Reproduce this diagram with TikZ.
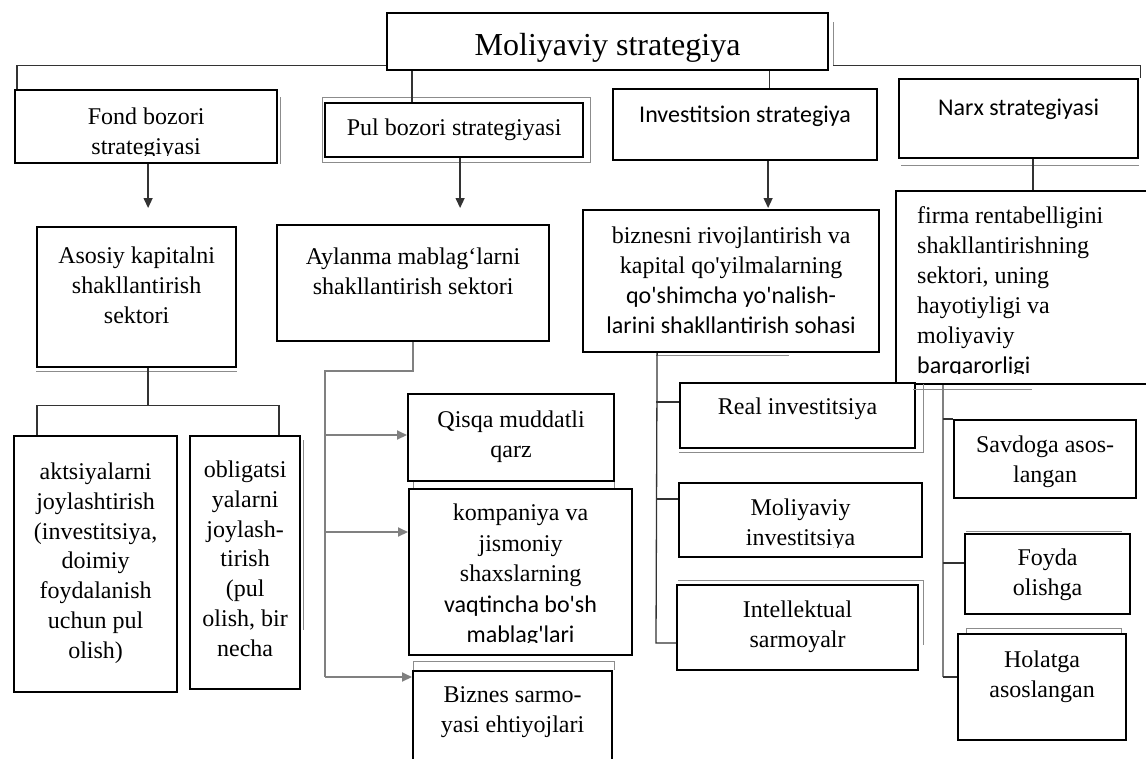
\documentclass[tikz,border=0pt]{standalone}
\usepackage{fontspec}
\setmainfont{Liberation Serif}
\newfontfamily\sansf{Carlito}
\usetikzlibrary{arrows.meta}
\newcommand{\aps}{\textquotesingle}
\begin{document}
\begin{tikzpicture}[x=1pt,y=-1pt,
  box/.style={draw=black, line width=2.2pt, inner sep=0pt, anchor=north west, fill=white},
  intext/.style={anchor=north, align=center, inner sep=0pt, draw=none, fill=none,
    minimum width=0pt, minimum height=0pt, font=\fontsize{24}{30}\selectfont},
  conn/.style={draw=black!80, line width=1.3pt},
  gconn/.style={draw=black!50, line width=2pt},
  rconn/.style={draw=black!50, line width=2.4pt},
  echo/.style={draw=black!45, line width=1pt},
  tip/.style={-{Triangle[length=10pt,width=9pt]}},
]
\clip (0,0) rectangle (1146,758);
\fill[white] (0,0) rectangle (1146,758);

% ---------- boxes ----------
\node[box, minimum width=441pt, minimum height=57pt,
  path picture={\node[intext, font=\fontsize{32}{38}\selectfont] at ([yshift=-19pt]path picture bounding box.north) {Moliyaviy strategiya};}]
  (top) at (386,12) {};

\node[box, minimum width=262pt, minimum height=73pt,
  path picture={\clip (path picture bounding box.north west) rectangle ([yshift=8pt]path picture bounding box.south east);
    \node[intext] at ([yshift=-17pt]path picture bounding box.north) {Fond bozori\\strategiyasi};}]
  (fond) at (14,89) {};

\node[box, minimum width=258pt, minimum height=54pt,
  path picture={\node[intext] at ([yshift=-15pt]path picture bounding box.north) {Pul bozori strategiyasi};}]
  (pul) at (324,102) {};

\node[box, minimum width=264pt, minimum height=71pt,
  path picture={\node[intext, font=\sansf\fontsize{24}{30}\selectfont] at ([yshift=-16pt]path picture bounding box.north) {Investitsion strategiya};}]
  (inv) at (612,88) {};

\node[box, minimum width=239pt, minimum height=79pt,
  path picture={\node[intext, font=\sansf\fontsize{24}{30}\selectfont] at ([yshift=-19pt]path picture bounding box.north) {Narx strategiyasi};}]
  (narx) at (898,78) {};

\node[box, minimum width=199pt, minimum height=140pt,
  path picture={\node[intext] at ([yshift=-19pt]path picture bounding box.north) {Asosiy kapitalni\\shakllantirish\\sektori};}]
  (asosiy) at (36,226) {};

\node[box, minimum width=272pt, minimum height=116pt,
  path picture={\node[intext] at ([yshift=-22pt]path picture bounding box.north) {Aylanma mablag‘larni\\shakllantirish sektori};}]
  (ayl) at (276,224) {};

\node[box, minimum width=296pt, minimum height=142pt,
  path picture={\node[intext] at ([yshift=-16pt]path picture bounding box.north) {biznesni rivojlantirish va\\kapital qo\aps yilmalarning\\{\sansf qo\aps shimcha yo\aps nalish-}\\{\sansf larini shakllantirish sohasi}};}]
  (biz) at (582,209) {};

\node[box, minimum width=270pt, minimum height=193pt,
  path picture={\clip (path picture bounding box.north west) rectangle ([yshift=11pt]path picture bounding box.south east);
    \node[intext, anchor=north west, align=left] at ([xshift=20pt,yshift=-14pt]path picture bounding box.north west) {firma rentabelligini\\shakllantirishning\\sektori, uning\\hayotiyligi va\\moliyaviy\\{\sansf barqarorligi}};}]
  (firma) at (895,190) {};

\node[box, minimum width=163pt, minimum height=256pt,
  path picture={\node[intext, font=\fontsize{24}{29.7}\selectfont] at ([yshift=-26pt]path picture bounding box.north) {aktsiyalarni\\joylashtirish\\(investitsiya,\\doimiy\\foydalanish\\uchun pul\\olish)};}]
  (akt) at (13,435) {};

\node[box, minimum width=110pt, minimum height=253pt,
  path picture={\node[intext, font=\fontsize{24}{29.7}\selectfont] at ([yshift=-24pt]path picture bounding box.north) {obligatsi\\yalarni\\joylash-\\tirish\\(pul\\olish, bir\\necha};}]
  (obl) at (189,435) {};

\node[box, minimum width=206pt, minimum height=87pt,
  path picture={\node[intext] at ([yshift=-16pt]path picture bounding box.north) {Qisqa muddatli\\qarz};}]
  (qisqa) at (407,393) {};

\node[box, minimum width=223pt, minimum height=166pt,
  path picture={\clip (path picture bounding box.north west) rectangle ([yshift=13pt]path picture bounding box.south east);
    \node[intext, font=\fontsize{24}{30.5}\selectfont] at ([yshift=-14pt]path picture bounding box.north) {kompaniya va\\jismoniy\\shaxslarning\\{\sansf vaqtincha bo\aps sh}\\{\sansf mablag\aps lari}};}]
  (komp) at (408,488) {};

\node[box, minimum width=199pt, minimum height=105pt,
  path picture={\node[intext] at ([yshift=-14pt]path picture bounding box.north) {Biznes sarmo-\\yasi ehtiyojlari};}]
  (biznes) at (412,670) {};

\node[box, minimum width=235pt, minimum height=65pt,
  path picture={\node[intext] at ([yshift=-14pt]path picture bounding box.north) {Real investitsiya};}]
  (real) at (679,382) {};

\node[box, minimum width=243pt, minimum height=74pt,
  path picture={\clip (path picture bounding box.north west) rectangle ([yshift=10pt]path picture bounding box.south east);
    \node[intext] at ([yshift=-15pt]path picture bounding box.north) {Moliyaviy\\investitsiya};}]
  (moli) at (678,482) {};

\node[box, minimum width=241pt, minimum height=85pt,
  path picture={\node[intext] at ([yshift=-15pt]path picture bounding box.north) {Intellektual\\sarmoyalr};}]
  (intel) at (676,584) {};

\node[box, minimum width=182pt, minimum height=78pt,
  path picture={\node[intext] at ([yshift=-15pt]path picture bounding box.north) {Savdoga asos-\\langan};}]
  (savd) at (953,419) {};

\node[box, minimum width=165pt, minimum height=80pt,
  path picture={\node[intext] at ([yshift=-14pt]path picture bounding box.north) {Foyda\\olishga};}]
  (foyda) at (964,533) {};

\node[box, minimum width=168pt, minimum height=106pt,
  path picture={\node[intext] at ([yshift=-16pt]path picture bounding box.north) {Holatga\\asoslangan};}]
  (holat) at (957,633) {};

% ---------- thin outlines beside some boxes ----------
\draw[echo] ([xshift=4pt,yshift=-10pt]top.north east) -- ([xshift=4pt,yshift=5pt]top.south east);
\draw[echo] ([xshift=2.5pt,yshift=-8pt]fond.north east) -- ([xshift=2.5pt]fond.south east);
\draw[echo] ([xshift=-2pt,yshift=5pt]pul.north west) rectangle ([xshift=6pt,yshift=-4pt]pul.south east);
\draw[echo] ([yshift=-3pt]asosiy.south west) -- ([yshift=-3pt]asosiy.south east);
\draw[echo] ([xshift=2.5pt,yshift=-5pt]obl.north east) -- ([xshift=2.5pt,yshift=60pt]obl.south east);
\draw[echo] ([xshift=3pt,yshift=-6pt]narx.south west) -- ([yshift=-6pt]narx.south east);
\draw[echo] ([xshift=7pt,yshift=-2pt]real.north east) -- ([xshift=7pt,yshift=-3pt]real.south east) -- ([yshift=-3pt]real.south west);
\draw[echo] ([xshift=-75pt,yshift=-2pt]biz.south) -- ([xshift=58pt,yshift=-2pt]biz.south);
\draw[echo] ([xshift=6pt]qisqa.south west) -- ([xshift=6pt]qisqa.south west |- komp.north);
\draw[echo] ([xshift=-1pt]qisqa.south east) -- ([xshift=-1pt]qisqa.south east |- komp.north);
\draw[echo] ([xshift=1pt]biznes.north west) -- ([xshift=1pt,yshift=9pt]biznes.north west) -- ([xshift=1pt,yshift=9pt]biznes.north east) -- ([xshift=1pt]biznes.north east);
\draw[echo] ([xshift=2pt,yshift=4pt]intel.north west) -- ([xshift=4pt,yshift=4pt]intel.north east) -- ([xshift=4pt,yshift=26pt]intel.south east);
\draw[echo] ([xshift=2pt,yshift=2pt]foyda.north west) -- ([xshift=-9pt,yshift=2pt]foyda.north east);
\draw[echo] ([xshift=9pt]holat.north west) -- ([xshift=9pt,yshift=5pt]holat.north west) -- ([xshift=-6pt,yshift=5pt]holat.north east) -- ([xshift=-6pt]holat.north east);
\draw[echo] ([xshift=18pt,yshift=-4pt]firma.south west) -- ([xshift=137pt,yshift=-4pt]firma.south west);

% ---------- connectors from the top box ----------
\draw[conn] ([yshift=6pt]top.south west) -| ([xshift=3pt]fond.north west);
\draw[conn] ([xshift=4pt,yshift=6pt]top.south east) -| ([xshift=1pt]narx.north east);
\draw[conn] ([xshift=26pt]top.south west) -- ([xshift=26pt]top.south west |- pul.north);
\draw[conn] ([xshift=-60pt]top.south east) -- ([xshift=-60pt]top.south east |- inv.north);

% ---------- arrows to the sector boxes ----------
\draw[conn,tip,shorten >=18pt] ([xshift=2pt]fond.south) -- ([xshift=2pt]fond.south |- asosiy.north);
\draw[conn,tip,shorten >=16pt] ([xshift=6pt]pul.south) -- ([xshift=6pt]pul.south |- ayl.north);
\draw[conn,tip,shorten >=1pt] ([xshift=23pt]inv.south) -- ([xshift=23pt]inv.south |- biz.north);
\draw[conn] ([xshift=14.5pt]narx.south) -- ([xshift=14.5pt]narx.south |- firma.north);

% ---------- fixed capital branch ----------
\draw[conn] ([xshift=11.5pt]asosiy.south) -- ++(0,37) coordinate (ja);
\draw[conn] ([xshift=24pt]akt.north west) |- (ja) -| ([xshift=90pt]obl.north west);

% ---------- working capital bus ----------
\coordinate (pbus) at (325,371);
\coordinate (p1) at (325,435);
\coordinate (p2) at (325,532);
\coordinate (p3) at (325,677);
\draw[gconn] (ayl.south) |- (pbus) -- (p3);
\draw[gconn,tip] (p1) -- (p1 -| qisqa.west);
\draw[gconn,tip] (p2) -- (p2 -| komp.west);
\draw[gconn,tip] (p3) -- (p3 -| biznes.west);

% ---------- investment bus ----------
\coordinate (i1) at (656,402);
\coordinate (i2) at (656,499);
\coordinate (i3) at (656,643);
\draw[conn] ([xshift=-74pt]biz.south) -- (i3) -- (i3 -| intel.west);
\draw[conn] (i1) -- (i1 -| real.west);
\draw[conn] (i2) -- (i2 -| moli.west);

% ---------- pricing bus ----------
\coordinate (r1) at (943,419);
\coordinate (r2) at (943,563);
\coordinate (r3) at (943,677);
\draw[rconn] (firma.south -| r1) -- (r3);
\draw[conn] (r3) -- (r3 -| holat.west);
\draw[conn] (r1) -- (savd.north west);
\draw[conn] (r2) -- (r2 -| foyda.west);
\end{tikzpicture}
\end{document}
